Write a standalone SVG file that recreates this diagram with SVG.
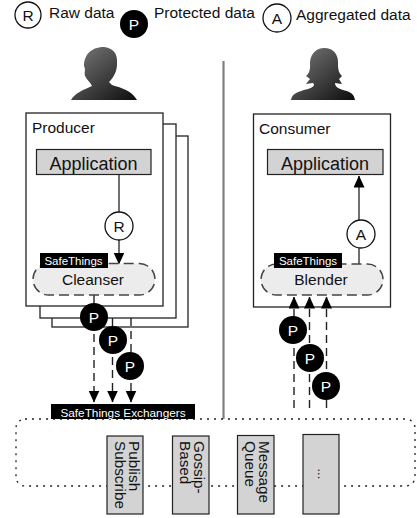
<svg xmlns="http://www.w3.org/2000/svg" width="417" height="518" viewBox="0 0 417 518">
<style>
text{font-family:"Liberation Sans",Arial,sans-serif;fill:#111}
.box{fill:#fff;stroke:#222;stroke-width:1.3}
.app{fill:#d3d3d3;stroke:#222;stroke-width:1.2}
.wc{fill:#fff;stroke:#111;stroke-width:1.3}
.bc{fill:#000;stroke:none}
.c{text-anchor:middle}
.w{fill:#fff}
.blob{fill:#ececec;stroke:#444;stroke-width:1.4;stroke-dasharray:10 5}
.tag{fill:#000}
.solid{fill:none;stroke:#333;stroke-width:1.4}
.dash{fill:none;stroke:#222;stroke-width:1.4;stroke-dasharray:8 5}
.v{font-size:15.3px}
.big{font-size:15.5px}
</style>
<defs>
<linearGradient id="sil" x1="0" y1="0" x2="1" y2="1"><stop offset="0" stop-color="#7d7d7d"/><stop offset="1" stop-color="#0c0c0c"/></linearGradient>
<marker id="ah" markerUnits="userSpaceOnUse" markerWidth="12" markerHeight="13" refX="11.500" refY="5.500" orient="auto"><path d="M0 0L12 5.500L0 11Z" fill="#000"/></marker>
</defs>
<g id="legend">
<circle class="wc" cx="28" cy="15" r="13"/><text class="c big" x="28" y="20.500">R</text>
<text class="big" x="49" y="18">Raw data</text>
<circle class="bc" cx="134" cy="24" r="14"/><text class="c w big" x="134" y="29.500">P</text>
<text class="big" x="154" y="18">Protected data</text>
<circle class="wc" cx="277" cy="18" r="14"/><text class="c big" x="277" y="23.500">A</text>
<text class="big" x="296" y="20">Aggregated data</text>
</g>
<g id="producer-person"><path fill="url(#sil)" d="M71 100C75 93 83 90 92 86C90 82 87 80 85 76C84 72 86 70 84 66C84 56 90 47 104 47C112 48 118 52 117 64C117 72 113 78 109 82L112 85C122 88 132 91 137 100Z"/></g>
<g id="consumer-person"><path fill="url(#sil)" d="M291 100C292 94 296 92 308 89C314 87 315 85 313 83L306 84L310 79L306 76C311 72 310 66 310 62C311 52 318 48 324 48C333 48 338 54 338 62C338 68 338 72 342 76L339 79L342 84L335 83C335 86 337 88 343 90C351 92 354 94 355 100Z"/></g>
<path id="divider" d="M223.500 61V419" fill="none" stroke="#808080" stroke-width="2.200"/>
<g id="stack-3"><rect class="box" x="52" y="136" width="136" height="191"/></g>
<g id="stack-2"><rect class="box" x="40" y="124" width="136" height="194"/></g>
<g id="producer"><rect class="box" x="26" y="113" width="137" height="193"/><text class="big" x="32" y="133">Producer</text></g>
<g id="consumer"><rect class="box" x="253.500" y="114" width="137" height="193"/><text class="big" x="259" y="134">Consumer</text></g>
<g id="connectors">
<path class="solid" d="M119 175V212"/>
<path class="solid" d="M119 240V264" marker-end="url(#ah)"/>
<path class="solid" d="M359 220V176" marker-end="url(#ah)"/>
<path class="solid" d="M359 248V264"/>
<path class="dash" d="M94 295V402" marker-end="url(#ah)"/>
<path class="dash" d="M112.500 318V402" marker-end="url(#ah)"/>
<path class="dash" d="M131 318V402" marker-end="url(#ah)"/>
<path class="dash" d="M294 408V297" marker-end="url(#ah)"/>
<path class="dash" d="M309.500 408V297" marker-end="url(#ah)"/>
<path class="dash" d="M326.500 408V297" marker-end="url(#ah)"/>
</g>
<g id="producer-app"><rect class="app" x="36.500" y="149.500" width="114.500" height="25"/><text class="c" x="93.500" y="170" font-size="18">Application</text></g>
<g id="consumer-app"><rect class="app" x="267.500" y="149.500" width="115.500" height="25"/><text class="c" x="325" y="170" font-size="18">Application</text></g>
<g id="cleanser"><rect class="blob" x="33" y="263.500" width="122" height="31.500" rx="15.700"/><rect class="tag" x="40" y="253" width="68" height="15"/><text class="c w" x="73.500" y="265" font-size="11.500">SafeThings</text><text class="c big" x="93" y="284.500">Cleanser</text></g>
<g id="blender"><rect class="blob" x="261" y="264" width="122" height="31" rx="15.500"/><rect class="tag" x="274" y="253" width="68" height="15"/><text class="c w" x="308" y="265" font-size="11.500">SafeThings</text><text class="c big" x="321" y="284.500">Blender</text></g>
<g id="raw"><circle class="wc" cx="119" cy="226" r="14"/><text class="c big" x="119" y="232">R</text></g>
<g id="agg"><circle class="wc" cx="361" cy="234" r="14"/><text class="c big" x="361" y="239.500">A</text></g>
<g id="p1"><circle class="bc" cx="94" cy="317" r="14"/><text class="c w big" x="94" y="322.500">P</text></g>
<g id="p2"><circle class="bc" cx="113" cy="340" r="14"/><text class="c w big" x="113" y="345.500">P</text></g>
<g id="p3"><circle class="bc" cx="130" cy="366" r="14"/><text class="c w big" x="130" y="371.500">P</text></g>
<g id="p4"><circle class="bc" cx="293" cy="330" r="14"/><text class="c w big" x="293" y="335.500">P</text></g>
<g id="p5"><circle class="bc" cx="310" cy="358" r="14"/><text class="c w big" x="310" y="363.500">P</text></g>
<g id="p6"><circle class="bc" cx="326" cy="386" r="14"/><text class="c w big" x="326" y="391.500">P</text></g>
<g id="exchangers-area"><rect x="16" y="419" width="399" height="67" rx="9" fill="none" stroke="#222" stroke-width="1.300" stroke-dasharray="2 5"/></g>
<g id="exchangers-label"><rect class="tag" x="51" y="404" width="144" height="15"/><text class="c w" x="123" y="416.500" font-size="11.800">SafeThings Exchangers</text></g>
<g id="publish"><rect class="app" x="107" y="436" width="36" height="78"/><text class="v" transform="translate(129 441) rotate(90)">Publish</text><text class="v" transform="translate(114.500 441) rotate(90)">Subscribe</text></g>
<g id="gossip"><rect class="app" x="172.500" y="436" width="36.500" height="78"/><text class="v" transform="translate(194 441) rotate(90)">Gossip-</text><text class="v" transform="translate(179.500 441) rotate(90)">Based</text></g>
<g id="mq"><rect class="app" x="237.500" y="435.500" width="36.500" height="78.500"/><text class="v" transform="translate(259 441) rotate(90)">Message</text><text class="v" transform="translate(244.500 441) rotate(90)">Queue</text></g>
<g id="other"><rect class="app" x="303" y="434.500" width="36" height="79.500"/><text transform="translate(318 468.500) rotate(90)" font-size="13">...</text></g>
</svg>
